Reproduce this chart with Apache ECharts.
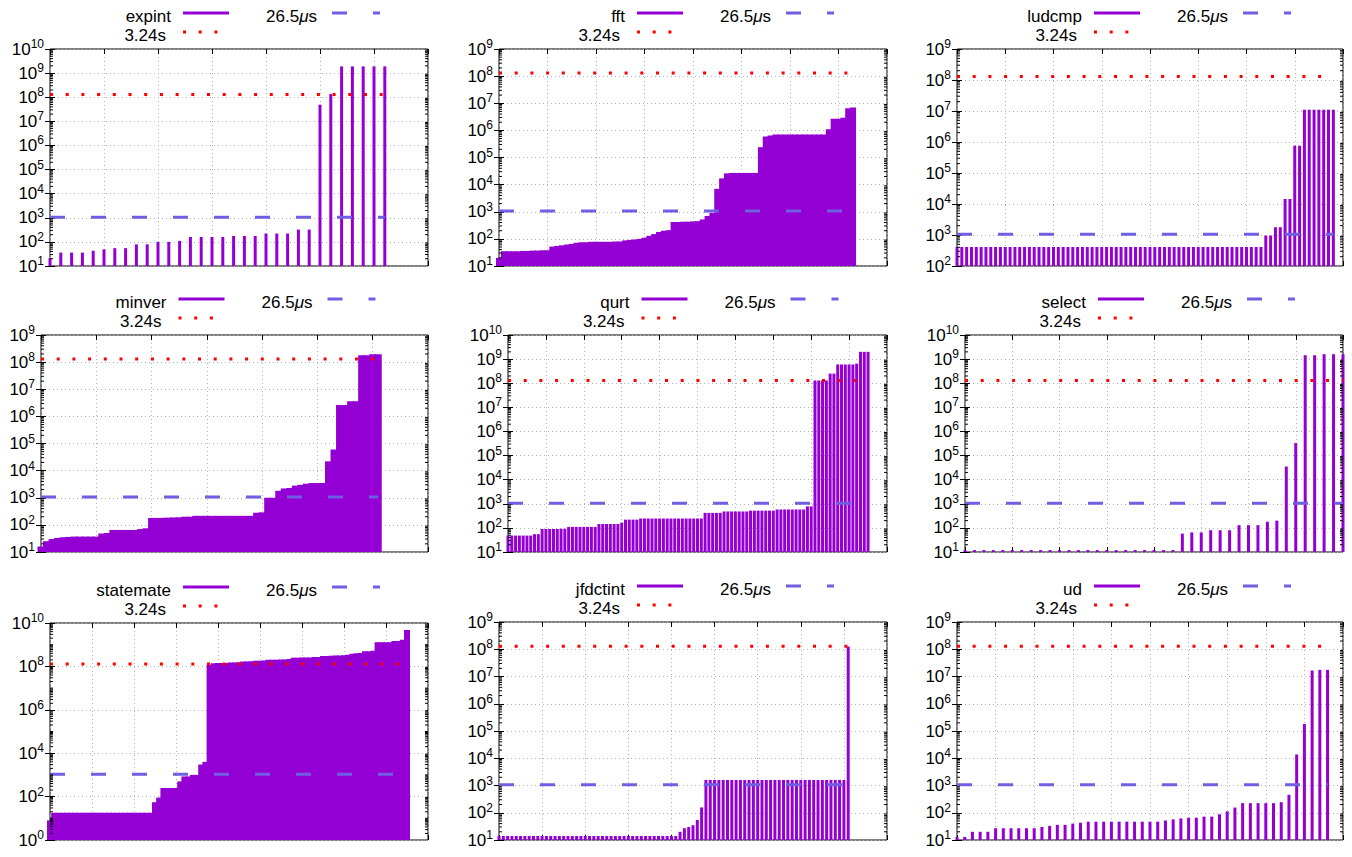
<!DOCTYPE html>
<html>
<head>
<meta charset="utf-8">
<title>Benchmark execution times</title>
<script src="https://cdn.jsdelivr.net/npm/echarts@6/dist/echarts.min.js"></script>
<style>
  html, body { margin: 0; padding: 0; background: #fff; }
  #chart { width: 1352px; height: 857px; }
</style>
</head>
<body>
<div id="chart"></div>
<script>
// reference limits (cycles) drawn in every panel
const SHORT_LIMIT = 1060;     // 26.5us
const LONG_LIMIT = 1.296e8;   // 3.24s

const benchNames = ['expint', 'fft', 'ludcmp', 'minver', 'qurt', 'select', 'statemate', 'jfdctint', 'ud'];

const expintTimes = [21, 36, 36, 36, 43, 49, 55, 55, 79, 79, 100, 100, 110, 160, 160, 160,
  160, 177, 177, 177, 222, 222, 222, 325, 325, 4.9e7, 1.35e8, 1.9e9, 1.9e9, 1.9e9, 1.9e9, 1.9e9];

const fftTimes = [20, 35, 35, 35, 35, 36, 36, 37, 37, 38, 38, 52, 55, 58, 62, 65,
  72, 75, 75, 78, 78, 78, 78, 78, 80, 80, 88, 92, 95, 100, 110, 130,
  150, 180, 200, 210, 420, 420, 430, 430, 440, 450, 520, 700, 900, 7000, 17000, 26000,
  27000, 27000, 27000, 27000, 27000, 27000, 2.4e5, 6e5, 6.5e5, 7e5, 7e5, 7e5, 7e5, 7e5,
  7e5, 7e5, 7e5, 7e5, 7e5, 7e5, 1.1e6, 2.7e6, 2.7e6, 2.9e6, 6.5e6, 7e6];

const ludcmpTimes = [410, 410, 410, 410, 410, 410, 410, 410, 410, 410, 410, 410, 410, 410, 410, 410,
  410, 410, 410, 410, 410, 410, 410, 410, 410, 410, 410, 410, 410, 410, 410, 410,
  410, 410, 410, 410, 410, 410, 410, 410, 410, 410, 410, 410, 410, 410, 410, 410,
  410, 410, 410, 410, 410, 410, 410, 410, 410, 410, 410, 410, 410, 410, 410, 410,
  960, 960, 1780, 1780, 1.45e4, 1.45e4, 7.6e5, 7.6e5, 1.1e7, 1.1e7, 1.1e7, 1.1e7, 1.1e7, 1.1e7, 1.1e7];

const minverTimes = [16, 25, 30, 33, 35, 36, 37, 37, 37, 37, 37, 48, 50, 65, 65, 65,
  65, 65, 70, 75, 180, 180, 182, 185, 188, 190, 200, 200, 215, 215, 215, 215,
  215, 215, 215, 215, 215, 215, 215, 280, 290, 1000, 1000, 1800, 2200, 2300, 2800, 3000,
  3300, 3500, 3500, 3500, 2.2e4, 6e4, 2.6e6, 2.6e6, 3.6e6, 3.6e6, 1.8e8, 1.8e8, 1.95e8, 1.95e8];

const qurtTimes = [48, 48, 48, 48, 48, 48, 48, 55, 55, 90, 90, 90, 90, 90, 92, 92,
  110, 110, 110, 110, 110, 110, 110, 110, 145, 145, 145, 145, 145, 145, 165, 220,
  220, 220, 220, 245, 245, 245, 245, 245, 245, 245, 245, 245, 245, 245, 245, 245,
  245, 245, 245, 245, 420, 420, 420, 420, 420, 480, 480, 480, 480, 480, 480, 480,
  520, 520, 520, 520, 520, 520, 520, 580, 580, 580, 580, 580, 580, 580, 580, 780,
  780, 1.3e8, 1.3e8, 1.3e8, 1.3e8, 2.5e8, 2.5e8, 6e8, 6e8, 6e8, 6e8, 6e8, 6.5e8, 2e9, 2e9, 2e9];

const selectTimes = [12, 12, 12, 12, 12, 12, 12, 12, 12, 12, 12, 12, 12, 12, 12, 12,
  12, 12, 12, 12, 12, 12, 12, 58, 65, 65, 80, 80, 80, 130, 130, 130,
  180, 200, 3.5e4, 3.3e5, 1.45e9, 1.45e9, 1.6e9, 1.6e9, 1.6e9];

const statemateTimes = [8, 18, 18, 18, 18, 18, 18, 18, 18, 18, 18, 18, 18, 18, 18, 18,
  18, 18, 18, 18, 18, 18, 18, 18, 18, 55, 90, 250, 250, 250, 250, 500,
  850, 850, 1000, 1000, 3000, 4000, 1.2e8, 1.4e8, 1.42e8, 1.45e8, 1.45e8, 1.5e8, 1.5e8, 1.55e8,
  1.7e8, 1.7e8, 1.75e8, 1.8e8, 1.8e8, 1.85e8, 2.0e8, 2.0e8, 2.05e8, 2.1e8, 2.1e8, 2.2e8, 2.5e8, 2.5e8, 2.55e8, 2.6e8,
  2.6e8, 2.7e8, 2.7e8, 3.0e8, 3.0e8, 3.1e8, 3.2e8, 3.2e8, 3.3e8, 3.4e8, 3.8e8, 4.0e8, 4.2e8, 5e8,
  5e8, 5.2e8, 1.3e9, 1.3e9, 1.3e9, 1.3e9, 1.5e9, 1.5e9, 1.7e9, 4.8e9];

const jfdctintTimes = [14, 14, 14, 14, 14, 14, 14, 14, 14, 14, 14, 14, 14, 14, 14, 14,
  14, 14, 14, 14, 14, 14, 14, 14, 14, 14, 14, 14, 14, 14, 14, 14,
  14, 14, 14, 14, 14, 14, 14, 14, 14, 14, 20, 27, 30, 35, 54, 157,
  1600, 1600, 1600, 1600, 1600, 1600, 1600, 1600, 1600, 1600, 1600, 1600, 1600, 1600, 1600, 1600,
  1600, 1600, 1600, 1600, 1600, 1600, 1600, 1600, 1600, 1600, 1600, 1600, 1600, 1600, 1600, 1600,
  1600, 1.25e8];

const udTimes = [13, 13, 20, 20, 20, 27, 27, 27, 27, 27, 27, 30, 33, 36, 36, 40,
  43, 47, 47, 47, 47, 47, 47, 47, 47, 47, 47, 52, 57, 62, 66, 66,
  72, 72, 88, 112, 155, 225, 225, 225, 225, 225, 245, 455, 1.38e4, 1.8e5, 1.66e7, 1.75e7, 1.75e7];

const benchTimes = [expintTimes, fftTimes, ludcmpTimes, minverTimes, qurtTimes,
  selectTimes, statemateTimes, jfdctintTimes, udTimes];

// x extent / tick step and y decades of each panel
const xMaxes = [35, 80, 80, 70, 100, 40, 90, 90, 50];
const xSteps = [5, 10, 10, 10, 10, 5, 10, 10, 5];
const yDecades = [[1, 10], [1, 9], [2, 9], [1, 9], [1, 10], [1, 10], [0, 10], [1, 9], [1, 9]];
const yDecadeSteps = [1, 1, 1, 1, 1, 1, 2, 1, 1];

// plot boxes [left, top, right, bottom] in px and impulse widths
const boxes = [
  [50, 49, 428, 266], [499, 49, 887, 266], [957, 49, 1343, 266],
  [41, 335, 428, 552], [508, 335, 887, 552], [965, 335, 1343, 552],
  [50, 623, 428, 840], [499, 622, 887, 840], [957, 622, 1343, 840]
];
const barWidths = [3, 6, 3, 7, 3, 3, 6, 3, 3];

const PURPLE = '#9400d3';
const BLUE = '#6f5fe3';
const RED = '#ff0000';
const FONT = '"Liberation Sans", Arial, sans-serif';

const chart = echarts.init(document.getElementById('chart'), null, { renderer: 'svg' });

const grids = [], xAxes = [], yAxes = [], series = [], graphics = [];

const tickStyle = { show: true, inside: true, length: 5, lineStyle: { color: '#000', width: 1 } };
const gridLine = { show: true, lineStyle: { color: '#b4b4b4', width: 1, type: [1, 3] } };

// log minor tick positions (2..9 x 10^k, plus skipped decades)
function minorTickValues(lo, hi, step) {
  const out = [];
  for (let e = lo; e < hi; e++) {
    if ((e - lo) % step !== 0) out.push(Math.pow(10, e));
    for (let m = 2; m <= 9; m++) out.push(m * Math.pow(10, e));
  }
  return out;
}

function renderMinorTick(params, api) {
  const cs = params.coordSys;
  const y = api.coord([0, api.value(0)])[1];
  const style = { stroke: '#000', lineWidth: 1 };
  return {
    type: 'group',
    children: [
      { type: 'line', shape: { x1: cs.x, y1: y, x2: cs.x + 3, y2: y }, style: style },
      { type: 'line', shape: { x1: cs.x + cs.width - 3, y1: y, x2: cs.x + cs.width, y2: y }, style: style }
    ]
  };
}

benchNames.forEach((name, i) => {
  const [l, t, r, b] = boxes[i];
  const values = benchTimes[i];
  const last = values.length - 1;
  grids.push({
    left: l, top: t, width: r - l, height: b - t,
    show: true, borderColor: '#000', borderWidth: 1,
    containLabel: false, outerBoundsMode: 'none'
  });

  const xBase = { gridIndex: i, type: 'value', min: 0, max: xMaxes[i], interval: xSteps[i],
    axisLabel: { show: false }, axisLine: { show: false }, axisTick: tickStyle };
  xAxes.push(Object.assign({}, xBase, { position: 'bottom', splitLine: gridLine }));
  xAxes.push(Object.assign({}, xBase, { position: 'top', splitLine: { show: false } }));

  const yBase = { gridIndex: i, type: 'log', logBase: 10,
    min: Math.pow(10, yDecades[i][0]), max: Math.pow(10, yDecades[i][1]),
    interval: yDecadeSteps[i], axisLine: { show: false }, axisTick: tickStyle };
  yAxes.push(Object.assign({}, yBase, {
    position: 'left', splitLine: gridLine,
    axisLabel: {
      margin: 6,
      formatter: v => '{b|10}{s|' + Math.round(Math.log10(v)) + '}',
      rich: {
        b: { fontSize: 17, lineHeight: 22, fontFamily: FONT, color: '#000' },
        s: { fontSize: 12, lineHeight: 12, verticalAlign: 'top', fontFamily: FONT, color: '#000' }
      }
    }
  }));
  yAxes.push(Object.assign({}, yBase, { position: 'right', axisLabel: { show: false }, splitLine: { show: false } }));

  series.push({
    name: name, type: 'bar', xAxisIndex: 2 * i, yAxisIndex: 2 * i,
    data: values.map((v, k) => [k, v]),
    barWidth: barWidths[i], itemStyle: { color: PURPLE }, silent: true, clip: true, z: 2
  });
  series.push({
    name: '26.5μs', type: 'line', xAxisIndex: 2 * i, yAxisIndex: 2 * i,
    data: [[0, SHORT_LIMIT], [last, SHORT_LIMIT]], symbol: 'none', silent: true,
    lineStyle: { color: BLUE, width: 3, type: [15, 26], cap: 'butt' }, z: 3
  });
  series.push({
    name: '3.24s', type: 'line', xAxisIndex: 2 * i, yAxisIndex: 2 * i,
    data: [[0, LONG_LIMIT], [last, LONG_LIMIT]], symbol: 'none', silent: true,
    lineStyle: { color: RED, width: 3, type: [3, 12.7], cap: 'butt' }, z: 4
  });
  series.push({
    type: 'custom', xAxisIndex: 2 * i, yAxisIndex: 2 * i, silent: true, clip: false, z: 5,
    data: minorTickValues(yDecades[i][0], yDecades[i][1], yDecadeSteps[i]).map(v => [v]),
    encode: { y: 0 },
    renderItem: renderMinorTick
  });

  // gnuplot style key above each plot
  const cx = (l + r) / 2;
  const row1 = t - 32.5, row2 = t - 13.5;
  const txt = (text, x, y) => ({
    type: 'text', silent: true,
    style: { text: text, x: x, y: y, align: 'right', verticalAlign: 'middle',
      fontSize: 17, fontFamily: FONT, fill: '#000',
      rich: { i: { fontStyle: 'italic', fontSize: 17, fontFamily: FONT, fill: '#000' } } }
  });
  const seg = (x1, x2, y, stroke, dash) => ({
    type: 'line', silent: true,
    shape: { x1: x1, y1: y, x2: x2, y2: y },
    style: { stroke: stroke, lineWidth: 3, lineDash: dash, lineCap: 'butt' }
  });
  graphics.push(txt(name, cx - 68, row1));
  graphics.push(seg(cx - 56, cx - 10, row1 - 3.5, PURPLE, null));
  graphics.push(txt('26.5{i|μ}s', cx + 78, row1));
  graphics.push(seg(cx + 93, cx + 141, row1 - 3.5, BLUE, [15, 26]));
  graphics.push(txt('3.24s', cx - 73, row2));
  graphics.push(seg(cx - 56, cx - 21, row2 - 3.5, RED, [3, 12.7]));
});

chart.setOption({
  animation: false,
  backgroundColor: '#fff',
  textStyle: { fontFamily: FONT },
  grid: grids,
  xAxis: xAxes,
  yAxis: yAxes,
  series: series,
  graphic: graphics
});
</script>
</body>
</html>
